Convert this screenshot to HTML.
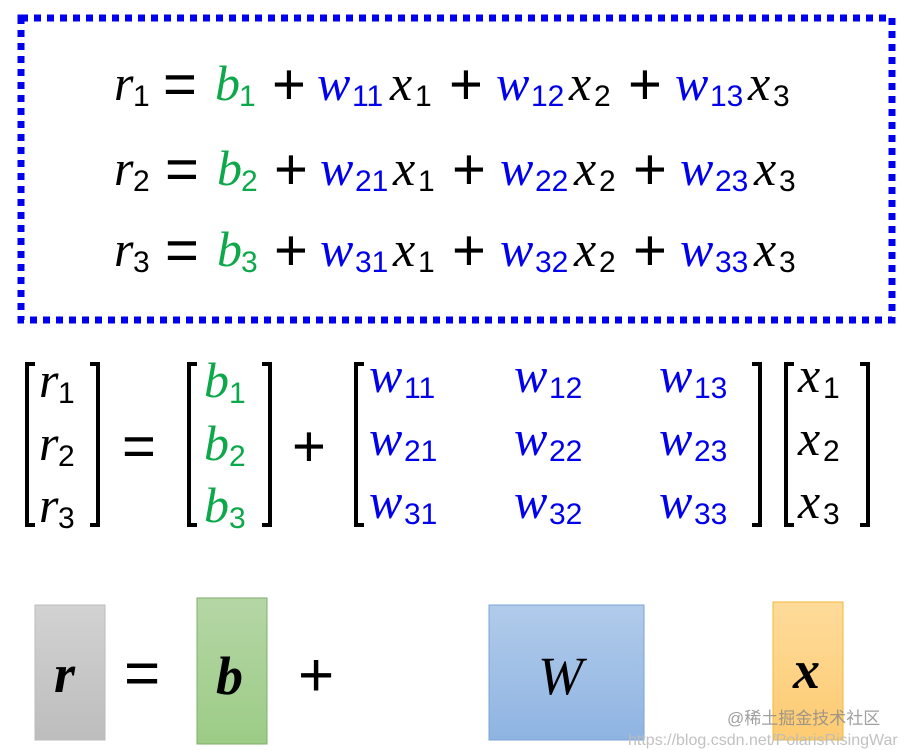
<!DOCTYPE html>
<html><head><meta charset="utf-8"><style>
html,body{margin:0;padding:0;background:#fff;}
svg{display:block}
.m{font-family:"Liberation Serif",serif;font-style:italic;font-size:50px;}
.s{font-family:"Liberation Sans",sans-serif;font-size:30px;}
.o{font-family:"Liberation Sans",sans-serif;font-size:58px;}
.g{fill:#0ca84a}.b{fill:#0000ee}.k{fill:#000}
</style></head><body>
<svg width="907" height="750" viewBox="0 0 907 750" xmlns="http://www.w3.org/2000/svg">
<rect x="21" y="18" width="871" height="302" fill="none" stroke="#0000ee" stroke-width="7" stroke-dasharray="7 6"/>
<g>
<g>
<text x="114" y="100" class="m k">r</text><text x="133" y="106" class="s k">1</text>
<text x="163" y="104" class="o k">=</text>
<text x="215" y="100" class="m g">b</text><text x="239" y="106" class="s g">1</text>
<text x="272" y="104" class="o k">+</text>
<text x="317" y="100" class="m b">w</text><text x="352" y="106" class="s b">11</text>
<text x="390" y="100" class="m k">x</text><text x="415" y="106" class="s k">1</text>
<text x="449" y="104" class="o k">+</text>
<text x="496" y="100" class="m b">w</text><text x="531" y="106" class="s b">12</text>
<text x="569" y="100" class="m k">x</text><text x="594" y="106" class="s k">2</text>
<text x="628" y="104" class="o k">+</text>
<text x="675" y="100" class="m b">w</text><text x="710" y="106" class="s b">13</text>
<text x="748" y="100" class="m k">x</text><text x="773" y="106" class="s k">3</text>
</g>
<g transform="translate(0,85)">
<text x="114" y="100" class="m k">r</text><text x="133" y="106" class="s k">2</text>
<text x="165" y="104" class="o k">=</text>
<text x="217" y="100" class="m g">b</text><text x="241" y="106" class="s g">2</text>
<text x="274" y="104" class="o k">+</text>
<text x="320" y="100" class="m b">w</text><text x="355" y="106" class="s b">21</text>
<text x="393" y="100" class="m k">x</text><text x="418" y="106" class="s k">1</text>
<text x="452" y="104" class="o k">+</text>
<text x="500" y="100" class="m b">w</text><text x="535" y="106" class="s b">22</text>
<text x="574" y="100" class="m k">x</text><text x="599" y="106" class="s k">2</text>
<text x="633" y="104" class="o k">+</text>
<text x="680" y="100" class="m b">w</text><text x="715" y="106" class="s b">23</text>
<text x="754" y="100" class="m k">x</text><text x="779" y="106" class="s k">3</text>
</g>
<g transform="translate(0,166)">
<text x="114" y="100" class="m k">r</text><text x="133" y="106" class="s k">3</text>
<text x="165" y="104" class="o k">=</text>
<text x="217" y="100" class="m g">b</text><text x="241" y="106" class="s g">3</text>
<text x="274" y="104" class="o k">+</text>
<text x="320" y="100" class="m b">w</text><text x="355" y="106" class="s b">31</text>
<text x="393" y="100" class="m k">x</text><text x="418" y="106" class="s k">1</text>
<text x="452" y="104" class="o k">+</text>
<text x="500" y="100" class="m b">w</text><text x="535" y="106" class="s b">32</text>
<text x="574" y="100" class="m k">x</text><text x="599" y="106" class="s k">2</text>
<text x="633" y="104" class="o k">+</text>
<text x="680" y="100" class="m b">w</text><text x="715" y="106" class="s b">33</text>
<text x="754" y="100" class="m k">x</text><text x="779" y="106" class="s k">3</text>
</g>
</g>
<g fill="none" stroke="#000" stroke-width="4">
<path d="M35 364 H27 V525 H35"/><path d="M90 364 H98 V525 H90"/>
<path d="M197 364 H189 V525 H197"/><path d="M262 364 H270 V525 H262"/>
<path d="M364 364 H356 V525 H364"/><path d="M752 364 H760 V525 H752"/>
<path d="M794 364 H786 V525 H794"/><path d="M860 364 H868 V525 H860"/>
</g>
<g>
<text x="39" y="397" class="m k">r</text><text x="58" y="403" class="s k">1</text>
<text x="39" y="460" class="m k">r</text><text x="58" y="466" class="s k">2</text>
<text x="39" y="522" class="m k">r</text><text x="58" y="528" class="s k">3</text>
<text x="122" y="466" class="o k">=</text>
<text x="204" y="397" class="m g">b</text><text x="229" y="403" class="s g">1</text>
<text x="204" y="460" class="m g">b</text><text x="229" y="466" class="s g">2</text>
<text x="204" y="522" class="m g">b</text><text x="229" y="528" class="s g">3</text>
<text x="292" y="466" class="o k">+</text>
<text x="369" y="392" class="m b">w</text><text x="404" y="398" class="s b">11</text>
<text x="514" y="392" class="m b">w</text><text x="549" y="398" class="s b">12</text>
<text x="659" y="392" class="m b">w</text><text x="694" y="398" class="s b">13</text>
<text x="369" y="455" class="m b">w</text><text x="404" y="461" class="s b">21</text>
<text x="514" y="455" class="m b">w</text><text x="549" y="461" class="s b">22</text>
<text x="659" y="455" class="m b">w</text><text x="694" y="461" class="s b">23</text>
<text x="369" y="518" class="m b">w</text><text x="404" y="524" class="s b">31</text>
<text x="514" y="518" class="m b">w</text><text x="549" y="524" class="s b">32</text>
<text x="659" y="518" class="m b">w</text><text x="694" y="524" class="s b">33</text>
<text x="798" y="392" class="m k">x</text><text x="823" y="398" class="s k">1</text>
<text x="798" y="455" class="m k">x</text><text x="823" y="461" class="s k">2</text>
<text x="798" y="518" class="m k">x</text><text x="823" y="524" class="s k">3</text>
</g>
<defs>
<linearGradient id="gg" x1="0" y1="0" x2="0" y2="1"><stop offset="0" stop-color="#d2d2d2"/><stop offset="1" stop-color="#bdbdbd"/></linearGradient>
<linearGradient id="gr" x1="0" y1="0" x2="0" y2="1"><stop offset="0" stop-color="#b5d6a6"/><stop offset="1" stop-color="#9ccc86"/></linearGradient>
<linearGradient id="bl" x1="0" y1="0" x2="0" y2="1"><stop offset="0" stop-color="#b1cbea"/><stop offset="1" stop-color="#8fb4e2"/></linearGradient>
<linearGradient id="or" x1="0" y1="0" x2="0" y2="1"><stop offset="0" stop-color="#fedb9a"/><stop offset="1" stop-color="#fdcb72"/></linearGradient>
</defs>
<rect x="35" y="605" width="70" height="135" fill="url(#gg)" stroke="#bbb" stroke-width="1"/>
<rect x="197" y="598" width="70" height="146" fill="url(#gr)" stroke="#7fae6a" stroke-width="1"/>
<rect x="489" y="605" width="155" height="135" fill="url(#bl)" stroke="#7aa3d6" stroke-width="1"/>
<rect x="773" y="602" width="70" height="138" fill="url(#or)" stroke="#f1b83a" stroke-width="1"/>
<text x="54" y="692" style="font-family:'Liberation Serif',serif;font-style:italic;font-weight:bold;font-size:54px">r</text>
<text x="124" y="694" class="o k" style="font-size:62px">=</text>
<text x="216" y="694" style="font-family:'Liberation Serif',serif;font-style:italic;font-weight:bold;font-size:54px">b</text>
<text x="298" y="696" class="o k" style="font-size:62px">+</text>
<text x="538" y="694" style="font-family:'Liberation Serif',serif;font-style:italic;font-size:54px">W</text>
<text x="793" y="688" style="font-family:'Liberation Serif',serif;font-style:italic;font-weight:bold;font-size:54px">x</text>
<text x="727" y="724" style="font-family:'Liberation Sans','Noto Sans CJK SC',sans-serif;font-size:17px;fill:#888;opacity:.8">@稀土掘金技术社区</text>
<text x="628" y="745" style="font-family:'Liberation Sans',sans-serif;font-size:16px;fill:#bbb;opacity:.9">https://blog.csdn.net/PolarisRisingWar</text>
</svg>
</body></html>
